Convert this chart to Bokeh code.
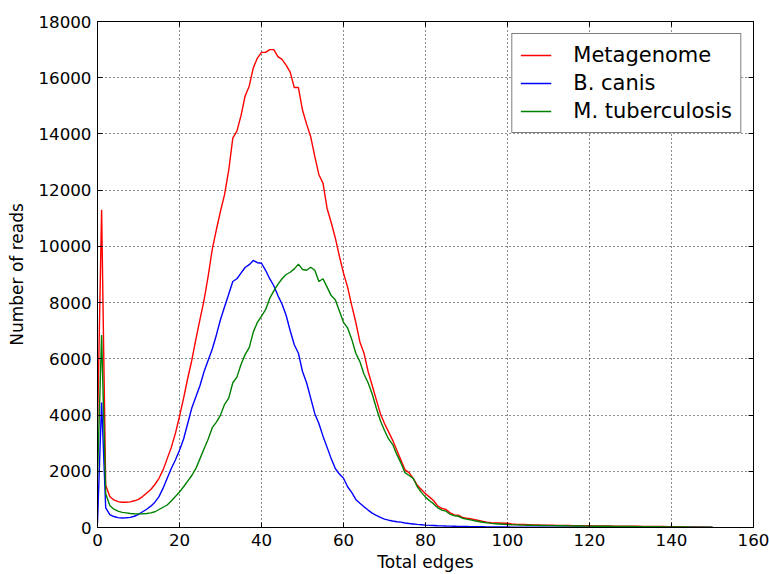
from bokeh.plotting import figure
from bokeh.models import LinearAxis, Range1d, FixedTicker, Legend, LegendItem, CustomLabelingPolicy
from bokeh.embed import file_html
from bokeh.resources import INLINE

edges = list(range(0, 151))

metagenome = [
    3500, 11300, 1500, 1100, 980, 920, 900, 900, 910, 950,
    1000, 1100, 1230, 1350, 1530, 1750, 2050, 2450, 2850, 3350,
    3950, 4600, 5300, 5950, 6700, 7400, 8100, 8950, 9900, 10600,
    11250, 11850, 12700, 13850, 14100, 14650, 15350, 15700, 16350, 16700,
    16900, 16900, 17000, 17000, 16750, 16650, 16450, 16200, 15650, 15650,
    14850, 14350, 13900, 13200, 12550, 12250, 11350, 10850, 10300, 9650,
    9050, 8550, 7900, 7300, 6600, 6200, 5550, 5050, 4550, 4050,
    3700, 3400, 3100, 2750, 2400, 2050, 1950, 1750, 1500, 1350,
    1200, 1080, 950, 760, 680, 640, 520, 450, 440, 360,
    330, 310, 280, 250, 220, 190, 175, 165, 160, 150,
    155, 125, 115, 110, 105, 100, 95, 92, 88, 85,
    82, 80, 77, 74, 72, 70, 68, 66, 64, 62,
    60, 58, 57, 55, 54, 52, 50, 49, 48, 46,
    45, 43, 42, 40, 38, 37, 35, 34, 33, 31,
    30, 28, 27, 25, 24, 22, 20, 18, 16, 14,
    12,
]

b_canis = [
    150, 4450, 700, 460, 390, 350, 340, 345, 360, 400,
    470, 560, 650, 760, 900, 1100, 1400, 1750, 2100, 2400,
    2750, 3150, 3700, 4250, 4650, 5050, 5550, 5950, 6350, 6850,
    7400, 7850, 8300, 8750, 8850, 9050, 9250, 9350, 9500, 9420,
    9400, 9150, 8850, 8600, 8250, 7950, 7550, 7000, 6500, 6200,
    5550, 5150, 4600, 4050, 3700, 3250, 2850, 2450, 2100, 1900,
    1750, 1450, 1250, 1000, 860, 740, 620, 510, 430, 360,
    300, 260, 230, 205, 190, 160, 140, 125, 110, 100,
    85, 75, 70, 62, 58, 52, 48, 44, 40, 37,
    34, 31, 29, 27, 25, 23, 21, 20, 18, 17,
    16, 15, 15, 14, 14, 13, 13, 12, 12, 11,
    11, 10, 10, 10, 9, 9, 9, 8, 8, 8,
    7, 7, 7, 6, 6, 6, 6, 5, 5, 5,
    5, 4, 4, 4, 4, 3, 3, 3, 3, 3,
    2, 2, 2, 2, 2, 2, 1, 1, 1, 1,
    1,
]

m_tuberculosis = [
    1800, 6850, 1200, 780, 650, 580, 540, 520, 500, 490,
    485, 490, 500, 520, 560, 640, 720, 800, 940, 1100,
    1260, 1450, 1650, 1850, 2100, 2450, 2800, 3150, 3550, 3750,
    4000, 4380, 4600, 5150, 5350, 5800, 6150, 6400, 6950, 7300,
    7520, 7750, 8150, 8420, 8650, 8850, 9000, 9080, 9200, 9370,
    9180, 9150, 9260, 9150, 8750, 8850, 8550, 8250, 8100, 7700,
    7300, 7100, 6700, 6200, 5900, 5450, 5150, 4750, 4250, 3800,
    3450, 3150, 2950, 2600, 2300, 1950, 1850, 1750, 1450, 1250,
    1080, 950, 840, 700, 620, 580, 470, 420, 400, 330,
    300, 270, 240, 215, 185, 165, 145, 135, 125, 115,
    108, 100, 95, 90, 86, 82, 78, 75, 72, 70,
    68, 66, 64, 62, 60, 58, 56, 54, 52, 50,
    48, 47, 46, 44, 43, 42, 40, 39, 38, 36,
    35, 34, 32, 31, 30, 28, 27, 26, 24, 23,
    22, 20, 19, 17, 16, 14, 13, 12, 10, 9,
    8,
]

series_names = ["Metagenome", "B. canis", "M. tuberculosis"]
series_colors = ["#ff0000", "#0000ff", "#008000"]
x_ticks = list(range(0, 161, 20))
y_ticks = list(range(0, 18001, 2000))

FONT = "DejaVu Sans"

p = figure(width=769, height=574, output_backend="svg", toolbar_location=None,
           x_range=Range1d(0, 160), y_range=Range1d(0, 18000),
           min_border_left=97, min_border_right=16, min_border_top=21, min_border_bottom=47)
p.background_fill_color = "white"
p.border_fill_color = "white"
p.outline_line_color = "black"
p.outline_line_width = 1

renderers = []
for ys, c in zip([metagenome, b_canis, m_tuberculosis], series_colors):
    r = p.line(edges, ys, line_color=c, line_width=1.4)
    renderers.append(r)

for ax in (p.xaxis[0], p.yaxis[0]):
    ax.major_tick_in = 5
    ax.major_tick_out = 0
    ax.minor_tick_line_color = None
    ax.axis_line_color = "black"
    ax.major_tick_line_color = "black"
    ax.major_label_text_font = FONT
    ax.major_label_text_font_size = "16.7px"
    ax.major_label_text_color = "black"
    ax.axis_label_text_font = FONT
    ax.axis_label_text_font_size = "17px"
    ax.axis_label_text_font_style = "normal"
    ax.axis_label_text_color = "black"

p.xaxis[0].ticker = FixedTicker(ticks=x_ticks)
p.yaxis[0].ticker = FixedTicker(ticks=y_ticks)
p.xaxis[0].axis_label = "Total edges"
p.yaxis[0].axis_label = "Number of reads"
p.xaxis[0].major_label_standoff = 6
p.yaxis[0].major_label_standoff = 6
p.xaxis[0].axis_label_standoff = 3
p.yaxis[0].axis_label_standoff = 8

hide_all = CustomLabelingPolicy(code="""
    for (const i of indices) { indices.unset(i) }
    return indices
""")

for loc, tk in (("right", y_ticks), ("above", x_ticks)):
    ax = LinearAxis(ticker=FixedTicker(ticks=tk), major_tick_in=5, major_tick_out=0,
                    minor_tick_line_color=None, major_label_policy=hide_all,
                    major_label_text_font_size="1px",
                    major_label_standoff=0, axis_line_color="black")
    p.add_layout(ax, loc)

p.xgrid.ticker = FixedTicker(ticks=x_ticks)
p.ygrid.ticker = FixedTicker(ticks=y_ticks)
for g in (p.xgrid, p.ygrid):
    g.grid_line_color = "black"
    g.grid_line_dash = "1 3"
    g.grid_line_width = 1
    g.grid_line_alpha = 0.9

legend = Legend(items=[LegendItem(label=n, renderers=[r]) for n, r in zip(series_names, renderers)],
                location="top_right")
legend.label_text_font = FONT
legend.label_text_font_size = "21px"
legend.label_text_color = "black"
legend.glyph_width = 31
legend.label_standoff = 22
legend.label_height = 26
legend.glyph_height = 26
legend.spacing = 2
legend.padding = 8
legend.margin = 12
legend.border_line_color = "black"
legend.border_line_width = 1
legend.background_fill_alpha = 1
p.add_layout(legend)

open("out.html", "w").write(file_html(p, INLINE))
